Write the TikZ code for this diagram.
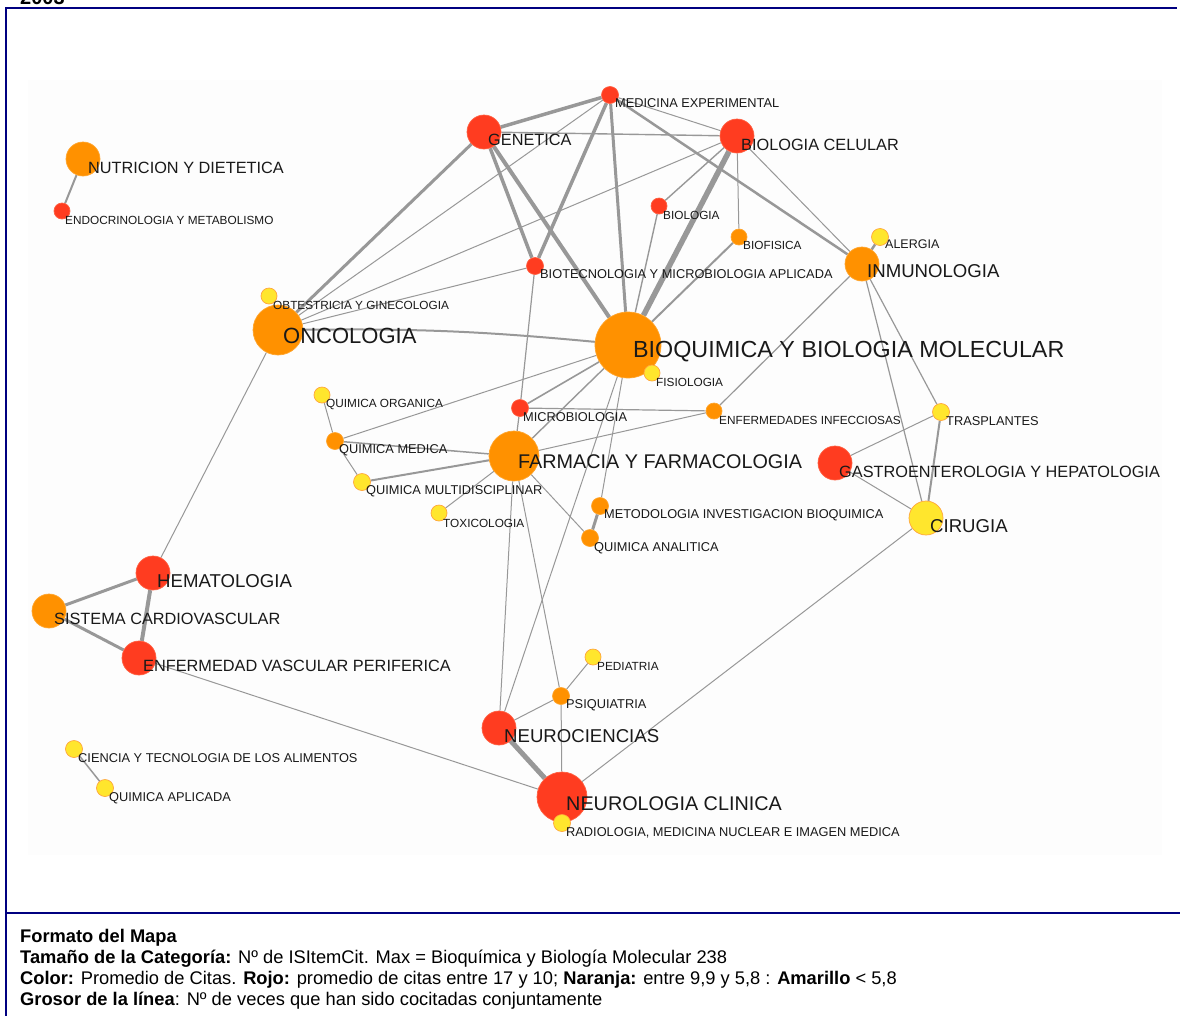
\documentclass[tikz,border=0pt]{standalone}
\usepackage{fontspec}
\setmainfont{Liberation Sans}
\pgfdeclarelayer{paper}
\pgfdeclarelayer{links}
\pgfsetlayers{paper,links,main}
\definecolor{nred}{RGB}{255,60,32}
\definecolor{nredb}{RGB}{255,95,65}
\definecolor{norange}{RGB}{255,145,0}
\definecolor{norangeb}{RGB}{255,165,45}
\definecolor{nyellow}{RGB}{255,230,45}
\definecolor{nyellowb}{RGB}{255,165,60}
\definecolor{edgec}{RGB}{152,152,152}
\definecolor{framec}{RGB}{0,0,128}
\definecolor{bgc}{RGB}{253,253,253}
\definecolor{labelc}{RGB}{25,25,25}
\tikzset{
  cat/.style={circle, inner sep=0pt, line width=0.7pt},
  rojo/.style={cat, fill=nred, draw=nredb},
  naranja/.style={cat, fill=norange, draw=norangeb},
  amarillo/.style={cat, fill=nyellow, draw=nyellowb},
  s8/.style={minimum size=16pt},
  s9/.style={minimum size=17pt},
  s17/.style={minimum size=34pt},
  s25/.style={minimum size=50pt},
  s33/.style={minimum size=66pt},
  lab/.style={anchor=base west, inner sep=0pt, text=labelc},
  lsmall/.style={lab, font=\fontsize{11.8}{13}\selectfont},
  lsmallb/.style={lab, font=\fontsize{12.8}{14}\selectfont},
  lmid/.style={lab, font=\fontsize{16.3}{18}\selectfont},
  lmidb/.style={lab, font=\fontsize{18.6}{20}\selectfont},
  llarge/.style={lab, font=\fontsize{19.8}{22}\selectfont},
  link/.style={draw=edgec, line width=#1},
  link/.default=1pt,
  legend/.style={anchor=base west, inner sep=0pt, font=\fontsize{18.3}{20}\selectfont},
}
\begin{document}
\begin{tikzpicture}[x=1pt,y=-1pt]
\useasboundingbox (0,0) rectangle (1180,1015);
\begin{scope}
\clip (0,0) rectangle (1180,1015);
\node[anchor=base west, inner sep=0pt, font=\bfseries\fontsize{20}{20}\selectfont] (year) at (20,4) {2003};
\end{scope}

% frame and map area
\begin{pgfonlayer}{paper}
\fill[bgc] (28,80) rectangle (1162,855);
\end{pgfonlayer}
\draw[framec, line width=2.2pt] (6,1016) -- (6,8) -- (1177,8);
\draw[framec, line width=2pt] (6,913) -- (1180,913);

% categories
\node[rojo,s9]      (medexp)  at (610,95)  {};
\node[rojo,s17]     (genet)   at (484,132) {};
\node[rojo,s17]     (biocel)  at (737,136) {};
\node[naranja,s17]  (nutri)   at (83,159)  {};
\node[rojo,s8]      (endoc)   at (62,211)  {};
\node[rojo,s8]      (biolog)  at (659,206) {};
\node[naranja,s8]   (biofis)  at (739,237) {};
\node[amarillo,s9]  (alerg)   at (880,237) {};
\node[naranja,s17]  (inmuno)  at (862,264) {};
\node[rojo,s9]      (biotec)  at (535,266) {};
\node[amarillo,s8]  (obst)    at (269,296) {};
\node[naranja,s25]  (onco)    at (278,330) {};
\node[naranja,s33]  (bioq)    at (628,345) {};
\node[amarillo,s8]  (fisio)   at (652,373) {};
\node[amarillo,s8]  (qorg)    at (322,395) {};
\node[rojo,s9]      (micro)   at (520,408) {};
\node[naranja,s8]   (enfinf)  at (714,411) {};
\node[amarillo,s9]  (traspl)  at (941,412) {};
\node[naranja,s9]   (qmed)    at (335,441) {};
\node[naranja,s25]  (farma)   at (514,456) {};
\node[rojo,s17]     (gastro)  at (835,463) {};
\node[amarillo,s9]  (qmulti)  at (362,482) {};
\node[naranja,s9]   (metod)   at (600,506) {};
\node[amarillo,s8]  (toxi)    at (439,513) {};
\node[amarillo,s17] (ciru)    at (926,518) {};
\node[naranja,s9]   (qanal)   at (590,538) {};
\node[rojo,s17]     (hemato)  at (153,573) {};
\node[naranja,s17]  (cardio)  at (49,611)  {};
\node[rojo,s17]     (vasc)    at (139,658) {};
\node[amarillo,s8]  (pedia)   at (593,657) {};
\node[naranja,s9]   (psiq)    at (561,696) {};
\node[rojo,s17]     (neuroc)  at (499,728) {};
\node[amarillo,s9]  (alim)    at (74,749)  {};
\node[amarillo,s9]  (qaplic)  at (105,788) {};
\node[rojo,s25]     (neurol)  at (562,797) {};
\node[amarillo,s9]  (radio)   at (562,823) {};

% co-citation links
\begin{pgfonlayer}{links}
\draw[link=3.5] (medexp) -- (genet);
\draw[link=3.5] (medexp) -- (biotec);
\draw[link=3]   (medexp) -- (bioq);
\draw[link=1]   (medexp) -- (biocel);
\draw[link=2.5] (medexp) -- (inmuno);
\draw[link=1]   (medexp) -- (onco);
\draw[link=1.4] (genet) -- (biocel);
\draw[link=3.5] (genet) -- (biotec);
\draw[link=4]   (genet) -- (bioq);
\draw[link=3]   (genet) -- (onco);
\draw[link=5.5] (biocel) -- (bioq);
\draw[link=1.4] (biocel) -- (biolog);
\draw[link=1]   (biocel) -- (biofis);
\draw[link=1]   (biocel) -- (inmuno);
\draw[link=1]   (biocel) -- (onco);
\draw[link=1.4] (biolog) -- (bioq);
\draw[link=2]   (biofis) -- (bioq);
\draw[link=2.5] (alerg) -- (inmuno);
\draw[link=1.2] (inmuno) -- (enfinf);
\draw[link=1.2] (inmuno) -- (ciru);
\draw[link=1.2] (inmuno) -- (traspl);
\draw[link=1]   (biotec) -- (onco);
\draw[link=1.2] (biotec) -- (micro);
\draw[link=2]   (onco) to[bend left=3] (bioq);
\draw[link=1]   (onco) -- (hemato);
\draw[link=1.6] (bioq) -- (micro);
\draw[link=1.4] (bioq) -- (farma);
\draw[link=1]   (bioq) -- (qmed);
\draw[link=1]   (bioq) -- (metod);
\draw[link=1]   (bioq) -- (neuroc);
\draw[link=1.2] (micro) -- (enfinf);
\draw[link=1.2] (micro) -- (farma);
\draw[link=1]   (farma) -- (enfinf);
\draw[link=1.5] (farma) -- (qmed);
\draw[link=2]   (farma) -- (qmulti);
\draw[link=1]   (farma) -- (toxi);
\draw[link=1]   (farma) -- (qanal);
\draw[link=1]   (farma) -- (neuroc);
\draw[link=1]   (farma) -- (psiq);
\draw[link=1]   (qmed) -- (qorg);
\draw[link=1]   (qmed) -- (qmulti);
\draw[link=3]   (metod) -- (qanal);
\draw[link=1]   (gastro) -- (traspl);
\draw[link=1]   (gastro) -- (ciru);
\draw[link=2]   (traspl) -- (ciru);
\draw[link=1]   (ciru) -- (neurol);
\draw[link=3]   (hemato) -- (cardio);
\draw[link=4]   (hemato) -- (vasc);
\draw[link=3]   (cardio) -- (vasc);
\draw[link=1]   (vasc) -- (neurol);
\draw[link=2]   (nutri) -- (endoc);
\draw[link=1.5] (alim) -- (qaplic);
\draw[link=1]   (pedia) -- (psiq);
\draw[link=1]   (psiq) -- (neuroc);
\draw[link=1]   (psiq) -- (neurol);
\draw[link=5]   (neuroc) -- (neurol);
\end{pgfonlayer}

% category names
\node[lsmallb] (t-medexp) at (615,107) {MEDICINA EXPERIMENTAL};
\node[lmid]    (t-genet)  at (488,145) {GENETICA};
\node[lmid]    (t-biocel) at (741,150) {BIOLOGIA CELULAR};
\node[lmid]    (t-nutri)  at (88,173)  {NUTRICION Y DIETETICA};
\node[lsmall]  (t-endoc)  at (65,224)  {ENDOCRINOLOGIA Y METABOLISMO};
\node[lsmall]  (t-biolog) at (663,219) {BIOLOGIA};
\node[lsmall]  (t-biofis) at (743,249) {BIOFISICA};
\node[lab, font=\fontsize{12.5}{14}\selectfont] (t-alerg) at (885,248) {ALERGIA};
\node[lmidb]   (t-inmuno) at (867,277) {INMUNOLOGIA};
\node[lsmallb] (t-biotec) at (540,278) {BIOTECNOLOGIA Y MICROBIOLOGIA APLICADA};
\node[lsmall]  (t-obst)   at (273,309) {OBTESTRICIA Y GINECOLOGIA};
\node[lab, font=\fontsize{22}{24}\selectfont] (t-onco) at (283,343) {ONCOLOGIA};
\node[lab, font=\fontsize{23.3}{26}\selectfont] (t-bioq) at (633,357) {BIOQUIMICA Y BIOLOGIA MOLECULAR};
\node[lsmall]  (t-fisio)  at (656,386) {FISIOLOGIA};
\node[lsmall]  (t-qorg)   at (326,407) {QUIMICA ORGANICA};
\node[lsmallb] (t-micro)  at (523,421) {MICROBIOLOGIA};
\node[lsmall]  (t-enfinf) at (719,424) {ENFERMEDADES INFECCIOSAS};
\node[lsmallb] (t-traspl) at (946,425) {TRASPLANTES};
\node[lsmallb] (t-qmed)   at (339,453) {QUIMICA MEDICA};
\node[llarge]  (t-farma)  at (518,468) {FARMACIA Y FARMACOLOGIA};
\node[lmid]    (t-gastro) at (839,477) {GASTROENTEROLOGIA Y HEPATOLOGIA};
\node[lsmallb] (t-qmulti) at (366,494) {QUIMICA MULTIDISCIPLINAR};
\node[lsmallb] (t-metod)  at (604,518) {METODOLOGIA INVESTIGACION BIOQUIMICA};
\node[lsmall]  (t-toxi)   at (443,527) {TOXICOLOGIA};
\node[lmidb]   (t-ciru)   at (930,532) {CIRUGIA};
\node[lsmallb] (t-qanal)  at (594,551) {QUIMICA ANALITICA};
\node[lmidb]   (t-hemato) at (157,587) {HEMATOLOGIA};
\node[lmid]    (t-cardio) at (54,624)  {SISTEMA CARDIOVASCULAR};
\node[lmid]    (t-vasc)   at (143,671) {ENFERMEDAD VASCULAR PERIFERICA};
\node[lsmall]  (t-pedia)  at (597,670) {PEDIATRIA};
\node[lsmallb] (t-psiq)   at (566,708) {PSIQUIATRIA};
\node[lmidb]   (t-neuroc) at (504,742) {NEUROCIENCIAS};
\node[lsmallb] (t-alim)   at (78,762)  {CIENCIA Y TECNOLOGIA DE LOS ALIMENTOS};
\node[lsmallb] (t-qaplic) at (109,801) {QUIMICA APLICADA};
\node[llarge]  (t-neurol) at (566,810) {NEUROLOGIA CLINICA};
\node[lsmallb] (t-radio)  at (566,836) {RADIOLOGIA, MEDICINA NUCLEAR E IMAGEN MEDICA};

% map legend
\node[legend] (leg1) at (20,942)  {\textbf{Formato del Mapa}};
\node[legend] (leg2) at (20,963)  {\textbf{Tamaño de la Categoría:} Nº de ISItemCit. Max = Bioquímica y Biología Molecular 238};
\node[legend] (leg3) at (20,984)  {\textbf{Color:} Promedio de Citas. \textbf{Rojo:} promedio de citas entre 17 y 10; \textbf{Naranja:} entre 9,9 y 5,8 : \textbf{Amarillo} < 5,8};
\node[legend] (leg4) at (20,1005) {\textbf{Grosor de la línea}: Nº de veces que han sido cocitadas conjuntamente};
\end{tikzpicture}
\end{document}
